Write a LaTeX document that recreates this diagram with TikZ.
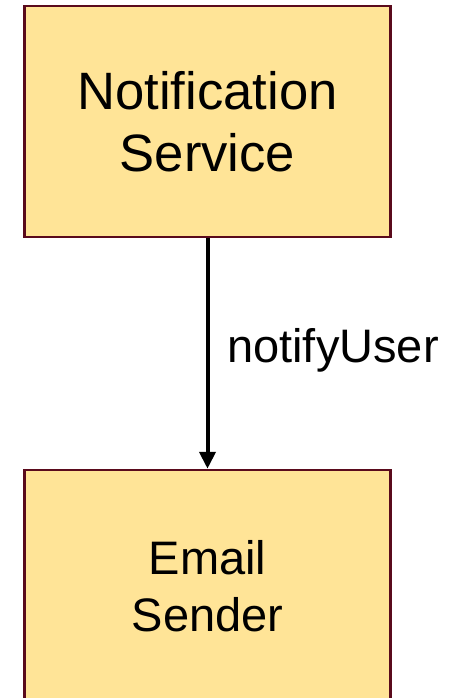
\documentclass[tikz,border=0pt]{standalone}
\usepackage{fontspec}
\setmainfont{Liberation Sans}
\usetikzlibrary{arrows.meta}
\definecolor{boxfill}{HTML}{FFE497}
\definecolor{boxline}{HTML}{5A0A1C}
\tikzset{
  comp/.style={draw=boxline, fill=boxfill, line width=2.5pt, minimum width=366pt,
    align=center, inner sep=0pt},
  call/.style={line width=4pt, -{Triangle[width=16pt,length=17pt]}},
}
\begin{document}
\begin{tikzpicture}[x=1pt,y=-1pt]
  \useasboundingbox (0,0) rectangle (452,698);
  \clip (0,0) rectangle (452,698);
  \node[comp, minimum height=231pt,
        font=\fontsize{52.6}{62}\selectfont] (ns) at (207.5,121.5)
        {Notification\\Service};
  \node[comp, minimum height=232pt,
        font=\fontsize{47}{57}\selectfont] (es) at (207.5,586)
        {Email\\Sender};
  \draw[call] (ns.south) -- (es.north);
  \node[anchor=base west, inner sep=0pt, font=\fontsize{47}{56}\selectfont]
    (lbl) at (227,362.5) {notifyUser};
\end{tikzpicture}
\end{document}
